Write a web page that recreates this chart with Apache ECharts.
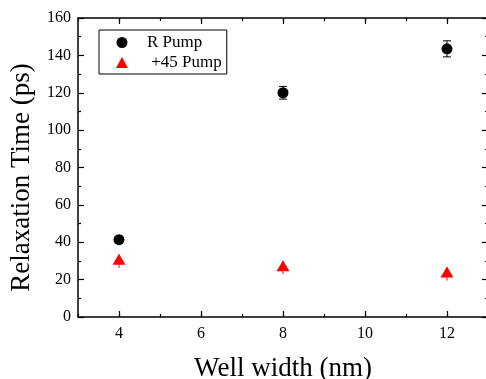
<!DOCTYPE html>
<html>
<head>
<meta charset="utf-8">
<script src="https://cdn.jsdelivr.net/npm/echarts@6/dist/echarts.min.js"></script>
<style>
  html, body { margin: 0; padding: 0; background: #fff; }
  #chart { width: 486px; height: 379px; }
</style>
</head>
<body>
<div id="chart"></div>
<script>
// well widths (nm)
const widths = [4, 8, 12];
// relaxation times (ps)
const rPump = [41.4, 120, 143.5];
const rPumpErr = [1, 3.4, 4.3];
const p45Pump = [29.8, 26.4, 23.0];
const p45PumpErr = [3.5, 3.5, 3.5];
const xMajorTicks = [4, 6, 8, 10, 12];

const FONT = '"Liberation Serif", "DejaVu Serif", serif';

function toPoints(ys) {
	return widths.map((w, i) => [w, ys[i]]);
}
function toBars(ys, errs) {
	return widths.map((w, i) => [w, ys[i] - errs[i], ys[i] + errs[i]]);
}

// 误差棒
function errorBar(color, cap) {
	return function (params, api) {
		const x = api.value(0);
		const lo = api.coord([x, api.value(1)]);
		const hi = api.coord([x, api.value(2)]);
		const style = { stroke: color, lineWidth: 1 };
		const children = [
			{ type: 'line', shape: { x1: lo[0], y1: lo[1], x2: hi[0], y2: hi[1] }, style }
		];
		if (cap) {
			children.push(
				{ type: 'line', shape: { x1: lo[0] - cap, y1: lo[1], x2: lo[0] + cap, y2: lo[1] }, style },
				{ type: 'line', shape: { x1: hi[0] - cap, y1: hi[1], x2: hi[0] + cap, y2: hi[1] }, style }
			);
		}
		return { type: 'group', children };
	};
}

const axisLine = { show: true, lineStyle: { color: '#000', width: 1.5 } };

function xAxisCfg(position, major, withLabels) {
	return {
		type: 'value',
		position,
		min: 3,
		max: 13,
		interval: 1,
		axisLine: major ? { show: false } : axisLine,
		splitLine: { show: false },
		axisTick: major
			? { show: true, inside: true, length: 6, customValues: xMajorTicks, lineStyle: { color: '#000', width: 1.2 } }
			: { show: true, inside: true, length: 3, lineStyle: { color: '#000', width: 1.2 } },
		axisLabel: withLabels
			? { show: true, customValues: xMajorTicks, color: '#000', fontFamily: FONT, fontSize: 16, margin: 9 }
			: { show: false }
	};
}

function yAxisCfg(position, withLabels) {
	return {
		type: 'value',
		position,
		min: 0,
		max: 160,
		interval: 20,
		axisLine,
		splitLine: { show: false },
		axisTick: { show: true, inside: true, length: 6, lineStyle: { color: '#000', width: 1.2 } },
		minorTick: { show: true, splitNumber: 2, length: 3, lineStyle: { color: '#000', width: 1.2 } },
		axisLabel: withLabels
			? { show: true, color: '#000', fontFamily: FONT, fontSize: 16, margin: 7 }
			: { show: false }
	};
}

const xBottom = xAxisCfg('bottom', false, true);
xBottom.name = 'Well width (nm)';
xBottom.nameLocation = 'middle';
xBottom.nameGap = 38;
xBottom.nameTextStyle = { color: '#000', fontFamily: FONT, fontSize: 27 };

const yLeft = yAxisCfg('left', true);
yLeft.name = 'Relaxation Time (ps)';
yLeft.nameLocation = 'middle';
yLeft.nameGap = 43;
yLeft.nameTextStyle = { color: '#000', fontFamily: FONT, fontSize: 27, padding: [0, 20, 0, 0] };

const option = {
	animation: false,
	backgroundColor: '#fff',
	grid: { left: 78, top: 18, width: 410, height: 299, outerBoundsMode: 'none' },
	legend: {
		left: 99,
		top: 30,
		orient: 'vertical',
		borderColor: '#000',
		borderWidth: 1,
		padding: [4, 5, 3, 17],
		itemWidth: 12,
		itemHeight: 11,
		itemGap: 3,
		textStyle: { color: '#000', fontFamily: FONT, fontSize: 17, padding: [0, 0, 0, 14] },
		data: ['R Pump', ' +45 Pump']
	},
	xAxis: [
		xBottom,
		xAxisCfg('bottom', true, false),
		xAxisCfg('top', false, false),
		xAxisCfg('top', true, false)
	],
	yAxis: [yLeft, yAxisCfg('right', false)],
	series: [
		{
			type: 'custom',
			renderItem: errorBar('#000', 4),
			data: toBars(rPump, rPumpErr),
			z: 1
		},
		{
			type: 'custom',
			renderItem: errorBar('#ff0000', 0),
			data: toBars(p45Pump, p45PumpErr),
			z: 1
		},
		{
			name: 'R Pump',
			type: 'scatter',
			symbol: 'circle',
			symbolSize: 11,
			itemStyle: { color: '#000', opacity: 1 },
			data: toPoints(rPump),
			z: 3
		},
		{
			name: ' +45 Pump',
			type: 'scatter',
			symbol: 'triangle',
			symbolSize: [13, 11],
			symbolOffset: [0, -2],
			itemStyle: { color: '#ff0000', opacity: 1 },
			data: toPoints(p45Pump),
			z: 3
		}
	]
};

const chart = echarts.init(document.getElementById('chart'));
chart.setOption(option);
</script>
</body>
</html>
